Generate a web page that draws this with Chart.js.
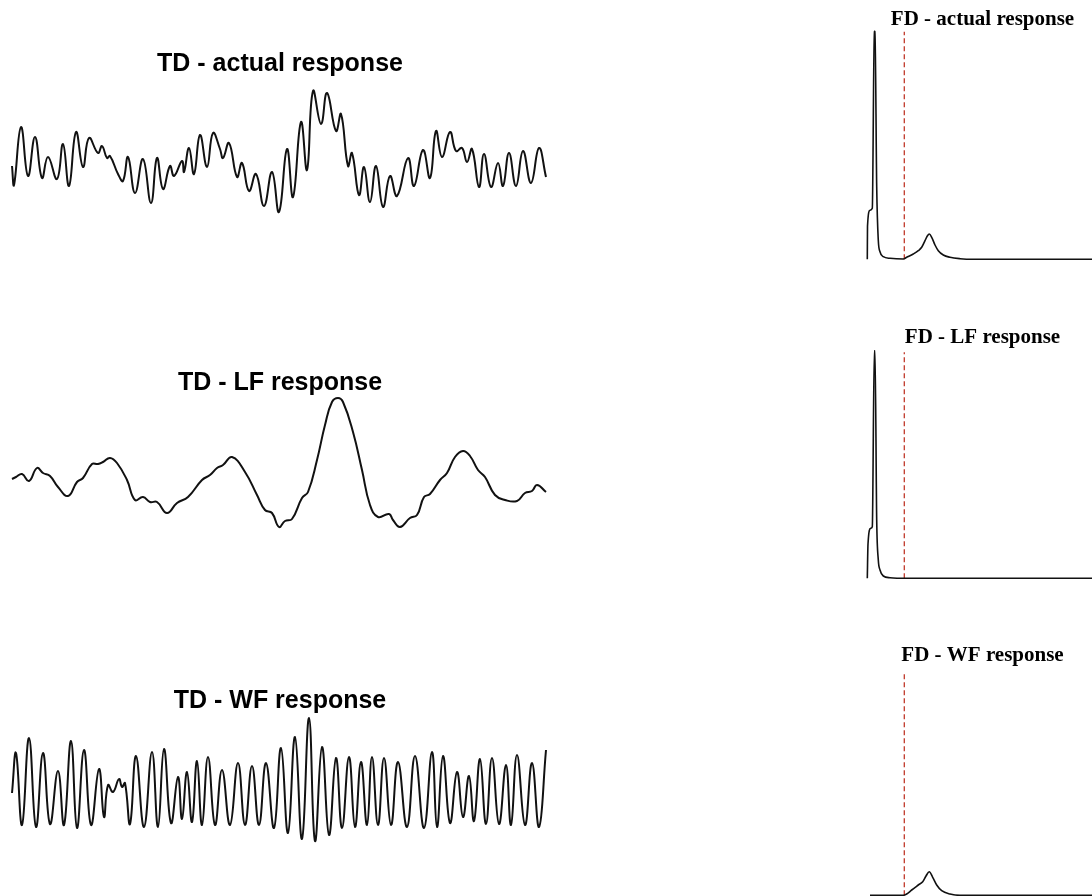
<!DOCTYPE html>
<html>
<head>
<meta charset="utf-8">
<title>TD / FD responses</title>
<script src="https://cdn.jsdelivr.net/npm/chart.js@4.4.1/dist/chart.umd.min.js"></script>
<style>
    html, body {
        margin: 0;
        padding: 0;
        background: #ffffff;
        width: 1092px;
        height: 896px;
        overflow: hidden;
    }
    canvas {
        position: absolute;
    }
</style>
</head>
<body>
<canvas id="tdActual" width="560" height="190" style="left:0px;top:49px"></canvas>
<canvas id="tdLf" width="560" height="190" style="left:0px;top:368px"></canvas>
<canvas id="tdWf" width="560" height="190" style="left:0px;top:686px"></canvas>
<canvas id="fdActual" width="245" height="275" style="left:860px;top:0px"></canvas>
<canvas id="fdLf" width="245" height="275" style="left:860px;top:318px"></canvas>
<canvas id="fdWf" width="245" height="260" style="left:860px;top:636px"></canvas>
<script>
// Time domain - actual response (sample, amplitude)
const tdActualTime = [0, 2, 9, 16, 23, 30, 36, 45, 51, 57, 64, 71, 77, 86, 90, 95, 98, 106, 111, 116,
    123, 131, 139, 145, 151, 158, 162, 170, 172, 177, 182, 188, 195, 201, 208, 211, 217, 225, 230, 237,
    244, 252, 260, 267, 275, 281, 289, 295, 301, 309, 315, 324, 329, 336, 340, 347, 352, 358, 364, 371,
    378, 385, 396, 402, 411, 418, 424, 430, 438, 444, 450, 455, 460, 467, 472, 479, 486, 491, 497, 504,
    511, 519, 527, 534];
const tdActualAmp = [-16, -35, 23, -26, 13, -28, -7, -29, 6, -36, 18, -17, 12, -3, 4, -8, -6, -24, -31, -7,
    -43, -9, -53, -8, -39, -16, -26, -11, -22, 2, -24, 15, -17, 17, 1, -8, 7, -27, -13, -41,
    -24, -56, -22, -62, 1, -47, 28, -20, 59, 26, 57, 19, 36, -16, -3, -45, -17, -52, -16, -57,
    -26, -46, -8, -36, 0, -28, 19, -7, 18, -1, 2, -12, 1, -37, -4, -37, -13, -36, -3, -36,
    -1, -33, 2, -27];

// Time domain - low frequency response
const tdLfTime = [0, 4, 10, 17, 25, 31, 38, 46, 56, 65, 71, 80, 86, 91, 98, 105, 115, 123, 131, 138,
    145, 155, 165, 176, 190, 198, 205, 211, 220, 233, 245, 253, 260, 267, 273, 280, 290, 296, 305, 313,
    320, 326, 331, 341, 350, 358, 366, 377, 381, 388, 398, 405, 412, 418, 428, 435, 443, 451, 458, 466,
    473, 483, 493, 505, 513, 520, 525, 534];
const tdLfAmp = [-19, -17, -14, -21, -8, -13, -16, -27, -36, -22, -18, -4, -4, -2, 2, -3, -20, -40, -37, -42,
    -42, -53, -43, -37, -20, -15, -8, -5, 3, -12, -35, -50, -53, -67, -61, -59, -38, -32, 0, 35,
    58, 62, 58, 28, -10, -45, -57, -54, -60, -67, -58, -55, -37, -34, -20, -13, 3, 9, 4, -10,
    -17, -35, -40, -41, -33, -31, -25, -32];

// Time domain - wave frequency response
const tdWfTime = [0, 4, 10, 17, 24, 31, 38, 46, 52, 59, 65, 72, 79, 87, 92, 96, 101, 107, 110, 113,
    118, 124, 132, 140, 146, 152, 159, 166, 170, 175, 180, 185, 190, 196, 203, 210, 218, 226, 233, 240,
    247, 254, 262, 269, 276, 283, 290, 297, 303, 310, 317, 324, 330, 337, 343, 349, 355, 360, 366, 372,
    379, 386, 395, 403, 412, 420, 425, 431, 438, 445, 451, 457, 462, 468, 474, 480, 487, 494, 499, 505,
    513, 520, 527, 534];
const tdWfAmp = [2, 42, -30, 57, -32, 42, -29, 24, -30, 54, -33, 45, -30, 26, -22, 10, 3, 16, 8, 12,
    -29, 39, -32, 43, -32, 46, -28, 18, -24, 23, -27, 34, -30, 38, -30, 25, -30, 32, -30, 29,
    -30, 32, -33, 47, -38, 58, -44, 77, -46, 48, -40, 37, -33, 38, -32, 33, -30, 38, -30, 37,
    -30, 33, -32, 39, -33, 43, -32, 39, -28, 23, -22, 19, -26, 36, -29, 37, -29, 30, -30, 40,
    -30, 32, -32, 45];

// Frequency domain spectra (frequency bin, amplitude)
const fdActualFreq = [0.3, 0.5, 3, 5.3, 7.3, 8, 9.7, 11.3, 13, 16.3, 23, 36.3, 39.7, 46.3, 51.3, 54.7,
    58, 60.3, 62.3, 64.7, 68, 71.3, 76.3, 83, 93, 106, 238];
const fdActualAmp = [0, 33, 49, 51, 227.6, 227.6, 72.6, 19, 7.6, 2.6, 1, 0.3, 2, 5.3, 8.6, 12,
    18.6, 23.3, 25.3, 22, 14.3, 8.6, 4.3, 2, 0.6, 0, 0];

const fdLfFreq = [0.3, 1, 3.7, 5.3, 7.3, 8, 9.7, 11.3, 13, 16.3, 23, 39.7, 238];
const fdLfAmp = [0, 34.3, 50, 51.6, 227.6, 227.6, 58.3, 18.3, 8.3, 2.3, 0.6, 0, 0];

const fdWfFreq = [3, 36.3, 39.7, 44.7, 51.3, 55.7, 59, 62.3, 65.7, 69.7, 74.7, 83, 93, 238];
const fdWfAmp = [0, 0, 1.3, 5.3, 10.3, 13.6, 19.3, 23.6, 18, 10.3, 4.6, 1.3, 0, 0];

// Cut-off frequency (red dashed marker) and its height in each spectrum
const cutoffFreq = 37.3;
const cutoffHeights = [227.6, 226, 223.6];

const LINE_COLOR = '#111111';
const CUTOFF_COLOR = '#c0392b';

function toPoints(xs, ys) {
    return xs.map((x, i) => ({ x: x, y: ys[i] }));
}

// smooth wave for time signals, monotone (no overshoot) for spectra
function curveDataset(xs, ys, width, smooth) {
    const ds = {
        data: toPoints(xs, ys),
        borderColor: LINE_COLOR,
        borderWidth: width,
        pointRadius: 0,
        fill: false,
        clip: false
    };
    if (smooth) {
        ds.tension = 0.45;
    } else {
        ds.cubicInterpolationMode = 'monotone';
    }
    return ds;
}

function cutoffDataset(height) {
    return {
        data: [{ x: cutoffFreq, y: 0 }, { x: cutoffFreq, y: height }],
        borderColor: CUTOFF_COLOR,
        borderWidth: 1.3,
        borderDash: [5, 3],
        pointRadius: 0,
        fill: false,
        tension: 0,
        clip: false
    };
}

function buildPanel(id, datasets, title, titleFont, padTop, xRange, yRange) {
    return new Chart(document.getElementById(id), {
        type: 'line',
        data: { datasets: datasets },
        options: {
            responsive: false,
            animation: false,
            events: [],
            layout: { padding: 0 },
            scales: {
                x: { type: 'linear', display: false, min: xRange[0], max: xRange[1] },
                y: { type: 'linear', display: false, min: yRange[0], max: yRange[1] }
            },
            plugins: {
                legend: { display: false },
                tooltip: { enabled: false },
                title: {
                    display: true,
                    text: title,
                    color: '#000000',
                    font: titleFont,
                    padding: { top: padTop, bottom: 0 }
                }
            }
        }
    });
}

const tdFont = { family: "'Liberation Sans', Arial, sans-serif", size: 25, weight: 'bold', lineHeight: 1.2 };
const fdFont = { family: "'Liberation Serif', 'Times New Roman', serif", size: 21, weight: 'bold', lineHeight: 1.2 };

buildPanel('tdActual', [curveDataset(tdActualTime, tdActualAmp, 2, true)],
    'TD - actual response', tdFont, 0, [-12, 548], [-89, 71]);
buildPanel('tdLf', [curveDataset(tdLfTime, tdLfAmp, 2, true)],
    'TD - LF response', tdFont, 0, [-12, 548], [-98, 62]);
buildPanel('tdWf', [curveDataset(tdWfTime, tdWfAmp, 2, true)],
    'TD - WF response', tdFont, 0, [-12, 548], [-81, 79]);

buildPanel('fdActual', [curveDataset(fdActualFreq, fdActualAmp, 1.6, false), cutoffDataset(cutoffHeights[0])],
    'FD - actual response', fdFont, 7, [-7, 238], [-15.7, 227.1]);
buildPanel('fdLf', [curveDataset(fdLfFreq, fdLfAmp, 1.6, false), cutoffDataset(cutoffHeights[1])],
    'FD - LF response', fdFont, 7, [-7, 238], [-14.7, 228.1]);
buildPanel('fdWf', [curveDataset(fdWfFreq, fdWfAmp, 1.6, false), cutoffDataset(cutoffHeights[2])],
    'FD - WF response', fdFont, 7, [-7, 238], [-0.7, 227.1]);
</script>
</body>
</html>
